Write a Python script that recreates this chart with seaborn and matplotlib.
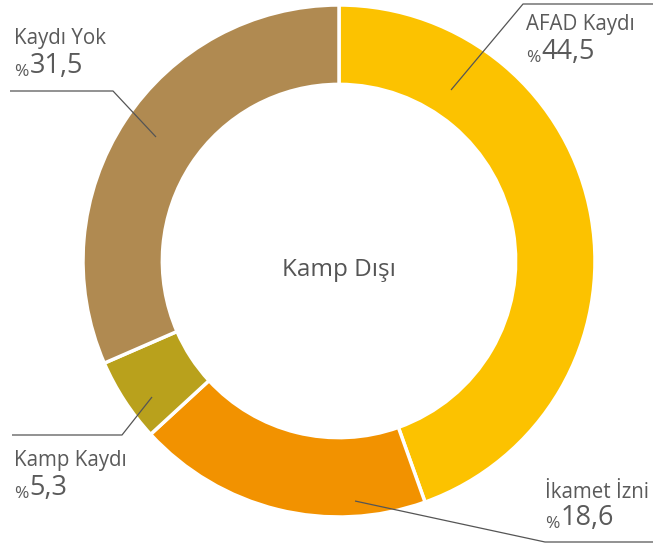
import matplotlib
matplotlib.use("Agg")
import matplotlib.pyplot as plt
import seaborn as sns

# data
labels = ["AFAD Kaydı", "İkamet İzni", "Kamp Kaydı", "Kaydı Yok"]
values = [44.5, 18.6, 5.3, 31.5]
value_text = ["44,5", "18,6", "5,3", "31,5"]
colors = ["#FCC200", "#F29200", "#B9A11C", "#B08A51"]
center_label = "Kamp Dışı"

sns.set_style("white")
plt.rcParams["font.family"] = ["Open Sans", "DejaVu Sans"]

W, H = 653, 544
cx, cy, R = 339, 261, 256  # pixel centre and outer radius


def px(x, y):
    # pixel position (from top-left) -> data coords
    return (x - cx) / R, (cy - y) / R


fig = plt.figure(figsize=(W / 100, H / 100), dpi=100)
ax = fig.add_axes([0, 0, 1, 1])
ax.pie(values, colors=colors, startangle=90, counterclock=False, radius=1.0,
       wedgeprops=dict(width=0.31, edgecolor="white", linewidth=2.5))
ax.set_xlim(-cx / R, (W - cx) / R)
ax.set_ylim(-(H - cy) / R, cy / R)
ax.set_aspect("equal")
ax.axis("off")

ax.text(*px(cx, 270), center_label, ha="center", va="center",
        fontsize=17.5, color="#555555")

txt_col = "#5a5a5a"
line_col = "#555555"

# label layout in pixels: (text x, name baseline, value baseline, leader points)
layout = {
    "AFAD Kaydı": (526, 30, 62, [(451, 90), (523, 4), (653, 4)]),
    "İkamet İzni": (545, 498, 528, [(355, 501), (545, 542), (653, 542)]),
    "Kamp Kaydı": (14, 466, 498, [(152, 397), (122, 435), (12, 435)]),
    "Kaydı Yok": (14, 44, 76, [(156, 137), (113, 91), (10, 91)]),
}

for lab, val in zip(labels, value_text):
    tx, by1, by2, pts = layout[lab]
    ax.text(*px(tx, by1), lab, ha="left", va="baseline", fontsize=14.8, color=txt_col)
    t = ax.text(*px(tx, by2), "%", ha="left", va="baseline", fontsize=12.5, color=txt_col)
    ax.annotate(val, xycoords=t, xy=(1, 0), xytext=(1, 0), textcoords="offset points",
                ha="left", va="bottom", fontsize=19.5, color=txt_col)
    xs, ys = zip(*[px(*p) for p in pts])
    ax.plot(xs, ys, color=line_col, lw=0.9, solid_capstyle="butt")

fig.savefig("out.png", dpi=100)
